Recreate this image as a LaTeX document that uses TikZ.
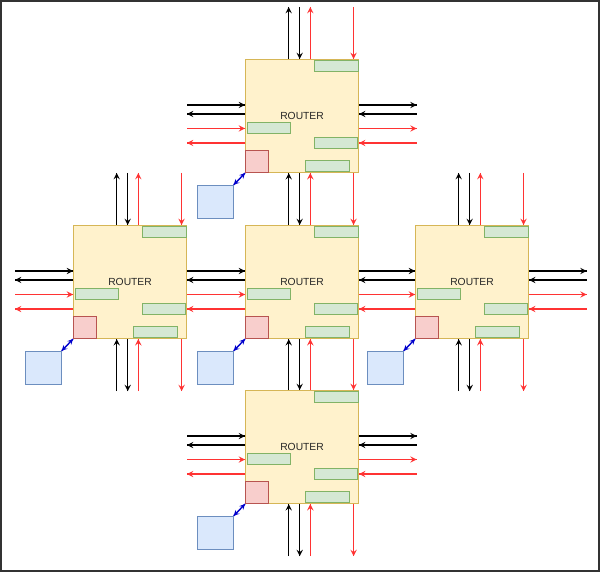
\documentclass[tikz,border=0pt]{standalone}
\usepackage{fontspec}
\setsansfont{Liberation Sans}
\usetikzlibrary{decorations.markings}
\definecolor{rtrfill}{HTML}{FFF2CC}
\definecolor{rtrline}{HTML}{D6B656}
\definecolor{buffill}{HTML}{D5E8D4}
\definecolor{bufline}{HTML}{82B366}
\definecolor{nifill}{HTML}{F8CECC}
\definecolor{niline}{HTML}{B85450}
\definecolor{pefill}{HTML}{DAE8FC}
\definecolor{peline}{HTML}{6C8EBF}
\definecolor{redlink}{HTML}{FF3333}
\definecolor{framegray}{HTML}{333333}
\tikzset{fwd/.style = {decoration={markings, mark=at position 1 with {\arrow[scale=1.2]{stealth}}}, postaction={decorate}}}
\tikzset{both/.style = {decoration={markings, mark=at position 0 with {\arrowreversed[scale=1]{stealth}}, mark=at position 1 with {\arrow[scale=1]{stealth}}}, postaction={decorate}}}
\tikzset{rtr/.style = {draw = rtrline, fill = rtrfill, line width = 1.1pt, minimum width = 113pt, minimum height = 113pt, inner sep = 0, anchor = north west, font = \sffamily\fontsize{10.3}{12}\selectfont, text = black!85}}
\tikzset{buf/.style = {draw = bufline, fill = buffill, line width = 1.1pt, minimum width = 43.5pt, minimum height = 11pt, inner sep = 0}}
\tikzset{ni/.style = {draw = niline, fill = nifill, line width = 1.1pt, minimum width = 23pt, minimum height = 22pt, inner sep = 0}}
\tikzset{pe/.style = {draw = peline, fill = pefill, line width = 1.1pt, minimum width = 36pt, minimum height = 33pt, inner sep = 0}}
\tikzset{blk/.style = {black, line width = 1.3pt}}
\tikzset{rd/.style = {redlink, line width = 1.3pt}}
\tikzset{pelink/.style = {blue!80!black, line width = 1.4pt}}

\begin{document}
\begin{tikzpicture}[x = 1pt, y = -1pt]
    \useasboundingbox (0, 0) rectangle (600, 572);
    \draw [framegray, line width = 2pt, fill = white] (1, 1) rectangle (599, 571);
    \foreach \r/\x/\y in {top/245/59, lft/73/225, mid/245/225, rgt/415/225, bot/245/390} {
        \node [rtr] (\r) at (\x, \y) {ROUTER};
        \node [buf, anchor = north east] (\r-b1) at ([xshift = -0.5pt, yshift = -1pt]\r.north east) {};
        \node [buf, anchor = north west] (\r-b2) at ([xshift = 1.5pt, yshift = -63pt]\r.north west) {};
        \node [buf, anchor = north east] (\r-b3) at ([xshift = -0.7pt, yshift = -78pt]\r.north east) {};
        \node [buf, anchor = south west] (\r-b4) at ([xshift = 60.3pt, yshift = 0.7pt]\r.south west) {};
        \node [ni, anchor = south west] (\r-ni) at (\r.south west) {};
        \node [pe, anchor = north east] (\r-pe) at ([xshift = -11.3pt, yshift = -11.7pt]\r.south west) {};
        \draw [pelink, both] (\r-ni.south west) -- (\r-pe.north east);
        \coordinate (\r-n) at ([yshift = 52pt]\r.north west);
        \coordinate (\r-s) at ([yshift = -52pt]\r.south west);
        \coordinate (\r-w) at ([xshift = -58pt]\r.north west);
        \coordinate (\r-e) at ([xshift = 57.5pt]\r.north east);
    }
    \foreach \a/\b in {top-n/top.north west, top.south west/mid.north west,
                       mid.south west/bot.north west, bot.south west/bot-s,
                       lft-n/lft.north west, lft.south west/lft-s,
                       rgt-n/rgt.north west, rgt.south west/rgt-s} {
        \draw [blk, fwd] ([xshift = 43.7pt]\b) -- ([xshift = 43.7pt]\a);
        \draw [blk, fwd] ([xshift = 54.7pt]\a) -- ([xshift = 54.7pt]\b);
        \draw [rd, fwd] ([xshift = 65.3pt]\b) -- ([xshift = 65.3pt]\a);
        \draw [rd, fwd] ([xshift = 108.6pt]\a) -- ([xshift = 108.6pt]\b);
    }
    \foreach \a/\b in {top-w/top.north west, top.north east/top-e,
                       lft-w/lft.north west, lft.north east/mid.north west,
                       mid.north east/rgt.north west, rgt.north east/rgt-e,
                       bot-w/bot.north west, bot.north east/bot-e} {
        \draw [blk, fwd] ([yshift = -46pt]\a) -- ([yshift = -46pt]\b);
        \draw [blk, fwd] ([yshift = -55pt]\b) -- ([yshift = -55pt]\a);
        \draw [rd, fwd] ([yshift = -69.5pt]\a) -- ([yshift = -69.5pt]\b);
        \draw [rd, fwd] ([yshift = -84pt]\b) -- ([yshift = -84pt]\a);
    }
\end{tikzpicture}
\end{document}
